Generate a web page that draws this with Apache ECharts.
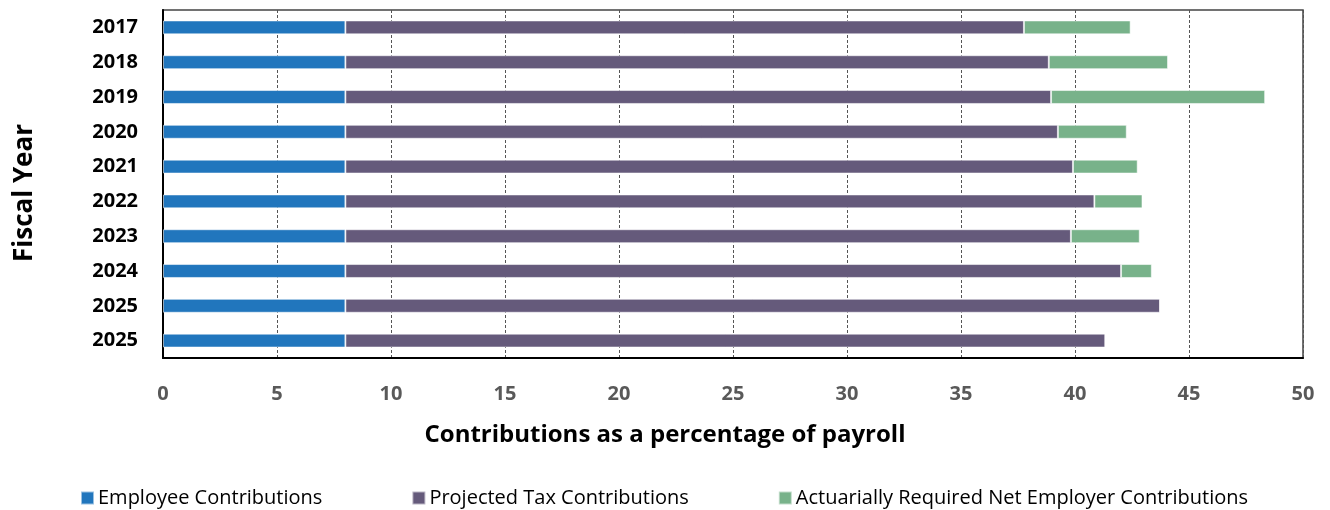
<!DOCTYPE html>
<html>
<head>
<meta charset="utf-8">
<script src="https://cdn.jsdelivr.net/npm/echarts@6/dist/echarts.min.js"></script>
<style>
  html, body { margin: 0; padding: 0; background: #fff; }
  #chart { width: 1330px; height: 510px; }
</style>
</head>
<body>
<div id="chart"></div>
<script>
// Fiscal years (two projections for 2025)
const years = ['2017', '2018', '2019', '2020', '2021', '2022', '2023', '2024', '2025', '2025'];

// Contribution components, % of payroll
const employee = [8, 8, 8, 8, 8, 8, 8, 8, 8, 8];
const projectedTax = [29.76, 30.85, 30.95, 31.25, 31.91, 32.85, 31.82, 34.02, 35.73, 33.33];
const netEmployer = [4.68, 5.23, 9.39, 3.02, 2.84, 2.11, 3.02, 1.35, 0, 0];

const xTicks = [0, 5, 10, 15, 20, 25, 30, 35, 40, 45, 50];

const FONT = '"Open Sans", "Noto Sans", sans-serif';

const chart = echarts.init(document.getElementById('chart'), null, { renderer: 'canvas' });

const barBase = {
  type: 'bar',
  stack: 'total',
  barWidth: '40%',
  silent: true,
  itemStyle: { borderColor: 'rgba(255,255,255,0.55)', borderWidth: 1 }
};

chart.setOption({
  animation: false,
  textStyle: { fontFamily: FONT },
  title: {
    text: 'Contributions as a percentage of payroll',
    left: 'center',
    top: 418,
    textStyle: { fontFamily: FONT, fontSize: 24, fontWeight: 'bold', color: '#000' }
  },
  graphic: [{
    type: 'text',
    x: 25,
    y: 193,
    rotation: Math.PI / 2,
    style: {
      text: 'Fiscal Year',
      font: 'bold 26px ' + FONT,
      fill: '#000',
      textAlign: 'center',
      textVerticalAlign: 'middle'
    }
  }],
  legend: {
    left: 80,
    top: 488,
    padding: 0,
    itemGap: 89,
    itemWidth: 13,
    itemHeight: 13,
    icon: 'rect',
    selectedMode: false,
    textStyle: { fontFamily: FONT, fontSize: 20, color: '#000', padding: [0, 0, 0, -1] }
  },
  grid: {
    left: 163,
    right: 27,
    top: 10,
    bottom: 152,
    show: true,
    borderColor: '#444',
    borderWidth: 1.5,
    containLabel: false
  },
  xAxis: {
    type: 'value',
    min: xTicks[0],
    max: xTicks[xTicks.length - 1],
    interval: 5,
    axisLine: { show: true, lineStyle: { color: '#000', width: 2 } },
    axisTick: { show: false },
    axisLabel: {
      margin: 26,
      fontFamily: FONT,
      fontSize: 20,
      fontWeight: 'bold',
      color: '#595959'
    },
    splitLine: { show: true, lineStyle: { color: '#555', type: [3, 2], width: 1 } }
  },
  yAxis: {
    type: 'category',
    data: years,
    inverse: true,
    axisLine: { show: true, lineStyle: { color: '#000', width: 2 } },
    axisTick: { show: false },
    axisLabel: {
      margin: 25,
      fontFamily: FONT,
      fontSize: 20,
      fontWeight: 'bold',
      color: '#000'
    },
    splitLine: { show: false }
  },
  series: [
    Object.assign({}, barBase, { name: 'Employee Contributions', data: employee, itemStyle: Object.assign({}, barBase.itemStyle, { color: '#2176bd' }) }),
    Object.assign({}, barBase, { name: 'Projected Tax Contributions', data: projectedTax, itemStyle: Object.assign({}, barBase.itemStyle, { color: '#655a7b' }) }),
    Object.assign({}, barBase, { name: 'Actuarially Required Net Employer Contributions', data: netEmployer, itemStyle: Object.assign({}, barBase.itemStyle, { color: '#78b28a' }) })
  ]
});
</script>
</body>
</html>
